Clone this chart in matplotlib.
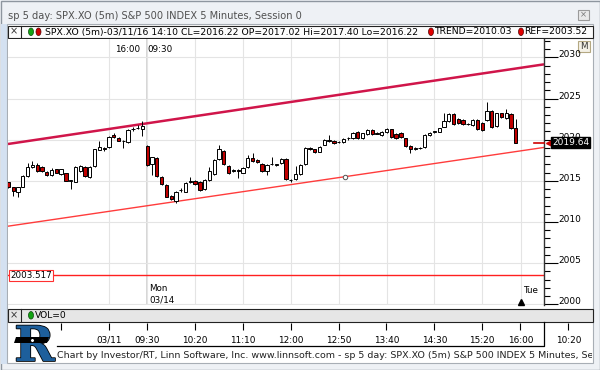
import matplotlib
matplotlib.use("Agg")
import matplotlib.pyplot as plt
import matplotlib.patheffects as pe
from matplotlib.patches import Rectangle, Ellipse, Polygon
from matplotlib.transforms import blended_transform_factory
import numpy as np

plt.rcParams['font.family'] = ['DejaVu Sans']

# ---- data: 5 minute bars, Fri 03/11 13:35-15:55 then Mon 03/14 09:30-15:55
opens = [2014.82, 2014.21, 2013.69, 2014.29, 2015.59, 2016.64, 2016.93, 2016.64, 2016.12, 2015.71,
         2016.40, 2015.83, 2015.91, 2015.02, 2014.90, 2016.24, 2016.64, 2015.51, 2016.80, 2018.75,
         2018.95, 2019.15, 2020.57, 2020.17, 2019.84, 2019.68, 2021.26, 2021.40, 2021.26,
         2019.23, 2017.05, 2017.74, 2015.51, 2014.50, 2013.16, 2012.59, 2013.85, 2013.69, 2014.90,
         2015.02, 2014.90, 2013.97, 2015.10, 2015.79, 2017.65, 2018.63, 2016.80, 2016.24, 2016.28,
         2016.00, 2016.64, 2017.74, 2017.53, 2017.05, 2016.24, 2017.05, 2016.97, 2017.13, 2017.65,
         2015.10, 2015.18, 2015.83, 2017.01, 2019.00, 2018.83, 2018.55, 2019.36, 2019.88, 2019.84,
         2019.74, 2019.76, 2020.15, 2020.17, 2020.98, 2020.17, 2020.69, 2021.18, 2020.75, 2020.57,
         2020.94, 2021.26, 2020.69, 2020.77, 2020.17, 2019.23, 2018.93, 2018.95, 2019.15, 2020.57,
         2020.96, 2020.98, 2021.58, 2022.31, 2023.08, 2022.48, 2022.39, 2021.85, 2021.79, 2022.39,
         2022.07, 2022.39, 2023.53, 2021.66, 2023.20, 2022.60, 2023.12, 2021.38]
closes = [2014.21, 2013.81, 2014.21, 2015.59, 2016.72, 2016.93, 2016.24, 2016.24, 2015.71, 2016.32,
          2016.00, 2016.40, 2015.02, 2015.05, 2016.64, 2016.80, 2015.59, 2016.72, 2018.83, 2019.15,
          2018.90, 2020.37, 2020.29, 2019.88, 2019.80, 2021.18, 2021.30, 2021.46, 2021.71,
          2016.93, 2017.86, 2015.59, 2014.62, 2013.08, 2012.75, 2013.69, 2013.89, 2014.78, 2014.95,
          2014.62, 2013.89, 2015.10, 2016.24, 2017.53, 2018.83, 2017.01, 2015.91, 2016.28, 2016.20,
          2016.60, 2017.74, 2017.41, 2017.25, 2016.24, 2016.93, 2017.09, 2017.01, 2017.65, 2015.18,
          2015.14, 2015.83, 2016.93, 2019.03, 2018.90, 2018.55, 2019.15, 2019.96, 2019.92, 2019.56,
          2019.78, 2020.04, 2020.19, 2020.86, 2020.17, 2020.77, 2021.18, 2020.69, 2020.79, 2020.98,
          2021.26, 2020.29, 2020.17, 2020.37, 2019.23, 2018.83, 2018.97, 2018.99, 2020.57, 2020.86,
          2021.00, 2021.38, 2022.31, 2023.08, 2021.91, 2021.99, 2021.91, 2021.89, 2022.39, 2021.26,
          2021.18, 2023.53, 2021.58, 2023.20, 2022.72, 2023.20, 2021.38, 2019.64]
highs = [2014.90, 2014.30, 2014.30, 2015.70, 2017.13, 2017.41, 2017.20, 2016.80, 2016.20, 2016.52,
         2016.50, 2016.50, 2016.00, 2015.15, 2016.75, 2016.90, 2016.75, 2016.80, 2018.90, 2019.84,
         2019.10, 2020.50, 2020.77, 2020.30, 2020.00, 2021.30, 2021.50, 2021.79, 2022.31,
         2019.30, 2017.95, 2017.85, 2015.60, 2014.60, 2013.25, 2013.80, 2014.10, 2014.90, 2015.43,
         2015.10, 2015.00, 2015.20, 2016.64, 2017.65, 2019.36, 2018.75, 2016.90, 2016.40, 2016.40,
         2016.70, 2018.14, 2018.42, 2017.65, 2017.15, 2017.00, 2017.86, 2017.10, 2017.75, 2017.75,
         2015.25, 2016.80, 2017.00, 2019.10, 2019.15, 2018.90, 2019.25, 2020.05, 2020.57, 2019.95,
         2019.90, 2020.15, 2020.35, 2020.95, 2021.10, 2020.85, 2021.30, 2021.30, 2020.90, 2021.05,
         2021.46, 2021.35, 2020.80, 2020.90, 2020.25, 2019.30, 2019.10, 2019.10, 2020.65, 2020.95,
         2021.10, 2021.45, 2023.20, 2023.20, 2023.20, 2022.60, 2022.50, 2022.00, 2022.50, 2022.50,
         2022.20, 2024.54, 2023.65, 2023.30, 2023.30, 2023.69, 2023.20, 2022.48]
lows = [2014.10, 2013.16, 2013.00, 2014.20, 2015.50, 2016.60, 2016.10, 2016.10, 2015.60, 2015.60,
        2015.90, 2015.75, 2014.95, 2013.97, 2014.80, 2016.10, 2015.45, 2015.40, 2016.70, 2018.70,
        2018.60, 2019.00, 2020.20, 2019.80, 2018.95, 2019.60, 2021.10, 2021.30, 2020.45,
        2016.80, 2015.71, 2015.50, 2014.50, 2013.00, 2012.65, 2012.35, 2013.60, 2013.60, 2014.70,
        2014.50, 2013.80, 2013.85, 2015.00, 2015.70, 2017.55, 2016.90, 2015.80, 2016.10, 2015.30,
        2015.90, 2016.55, 2017.30, 2017.15, 2016.10, 2015.71, 2016.95, 2016.85, 2017.05, 2015.10,
        2014.80, 2015.10, 2015.75, 2016.90, 2018.75, 2018.40, 2018.45, 2019.30, 2019.75, 2019.45,
        2019.60, 2019.65, 2020.00, 2020.05, 2020.05, 2020.05, 2020.60, 2020.60, 2020.65, 2020.50,
        2020.85, 2020.20, 2020.05, 2020.25, 2019.10, 2018.42, 2018.80, 2018.85, 2019.05, 2020.50,
        2020.85, 2020.90, 2021.50, 2022.20, 2021.80, 2021.90, 2021.80, 2021.75, 2021.70, 2021.15,
        2021.05, 2022.30, 2021.45, 2021.55, 2022.60, 2022.50, 2021.25, 2019.55]

# trend lines (bar index, price) and reference level
upper_x, upper_y = [-0.1, 111.9], [2019.48, 2029.16]
lower_x, lower_y = [-0.1, 111.9], [2009.49, 2019.06]
anchor_x, anchor_y = [70.3], [2015.50]
ref_level = 2003.517
last_price = 2019.64

time_ticks = [11, 21, 29, 39, 49, 59, 69, 79, 89, 99, 107, 117]
time_labels = ['', '03/11', '09:30', '10:20', '11:10', '12:00', '12:50', '13:40',
               '14:30', '15:20', '16:00', '10:20']
grid_ticks = [21, 29, 39, 49, 59, 69, 79, 89, 99, 107]
session_break = 29
tue_start = 107

info_text = "SPX.XO (5m)-03/11/16 14:10 CL=2016.22 OP=2017.02 Hi=2017.40 Lo=2016.22"
trend_text = "TREND=2010.03"
ref_text = "REF=2003.52"
title = "sp 5 day: SPX.XO (5m) S&P 500 INDEX 5 Minutes, Session 0"
footer = ("Chart by Investor/RT, Linn Software, Inc. www.linnsoft.com - "
          "sp 5 day: SPX.XO (5m) S&P 500 INDEX 5 Minutes, Session 0")

W, H = 600, 370
fig = plt.figure(figsize=(6, 3.7), dpi=100, facecolor='#eef1f5')


def fr(x0, y0, x1, y1):
    # pixel box (top-left origin) -> figure fraction rect
    return [x0 / W, 1 - y1 / H, (x1 - x0) / W, (y1 - y0) / H]


# background / window frame in pixel coords
bg = fig.add_axes([0, 0, 1, 1], zorder=0)
bg.set_xlim(0, W)
bg.set_ylim(H, 0)
bg.axis('off')
bg.add_patch(Rectangle((0.5, 0.5), 599, 369, fc='none', ec='#8e969f', lw=1))
bg.add_patch(Rectangle((1, 24), 5.5, 340, fc='#d4e1f1', ec='none'))
bg.add_patch(Rectangle((7, 24), 586, 339, fc='white', ec='#a8aeb5', lw=0.8))
bg.text(8, 16, title, fontsize=7.1, color='#505050', va='center', ha='left')
bg.add_patch(Rectangle((578, 9.5), 11, 10, fc='#e9e9e9', ec='#9a9a9a', lw=0.8))
bg.text(583.5, 14.5, '×', fontsize=6, color='#777777', ha='center', va='center')

# info bar
bg.add_patch(Rectangle((7.5, 25.5), 585, 12.5, fc='#fcfcfc', ec='#222222', lw=0.8))
bg.plot([20.5, 20.5], [25.5, 38], color='#222222', lw=0.8)
bg.text(14, 31.8, '×', fontsize=7, color='#333333', ha='center', va='center')
bg.add_patch(Ellipse((31, 31.8), 5, 7.5, fc='#13a313', ec='#0a4a0a', lw=0.5))
bg.add_patch(Ellipse((38.5, 31.8), 5, 7.5, fc='#d00000', ec='#500000', lw=0.5))
bg.text(45, 32, info_text, fontsize=6.7, color='black', va='center', ha='left')
bg.add_patch(Ellipse((431, 31.8), 5, 7.5, fc='#e00000', ec='#500000', lw=0.5))
bg.text(434.5, 32, trend_text, fontsize=6.7, color='black', va='center', ha='left')
bg.add_patch(Ellipse((521, 31.8), 5, 7.5, fc='#e00000', ec='#500000', lw=0.5))
bg.text(524.5, 32, ref_text, fontsize=6.7, color='black', va='center', ha='left')
bg.plot([266, 285], [39.5, 39.5], color='black', lw=2, solid_capstyle='butt')

# "M" button
bg.add_patch(Rectangle((578, 40.5), 11.5, 11, fc='#f4f1e6', ec='#b4a882', lw=0.8))
bg.text(583.8, 46.3, 'M', fontsize=6.3, color='#333333', ha='center', va='center')

# VOL pane header
bg.add_patch(Rectangle((7.5, 308.5), 585, 13.5, fc='#e6e6e6', ec='#222222', lw=0.8))
bg.plot([20.5, 20.5], [308.5, 322], color='#222222', lw=0.8)
bg.text(14, 315.3, '×', fontsize=7, color='#333333', ha='center', va='center')
bg.add_patch(Ellipse((31, 315.3), 5, 7.5, fc='#13a313', ec='#0a4a0a', lw=0.5))
bg.text(34.5, 315.5, 'VOL=0', fontsize=6.6, color='black', va='center', ha='left')

# time axis frame lines
bg.plot([57, 543.5, 543.5], [346, 346, 322], color='black', lw=0.9)

# logo
bg.add_patch(Polygon([[16, 337], [49, 337], [47, 343], [14, 343]], closed=True,
                     fc='black', ec='none', zorder=3))
bg.text(34.5, 361, 'R', fontsize=35, fontweight='bold', family='DejaVu Serif',
        color='#1d5f9c', ha='center', va='baseline', zorder=2,
        path_effects=[pe.withStroke(linewidth=1.2, foreground='black')])
bg.plot([32], [340.2], marker=(4, 0, 0), ms=1.5, color='white', zorder=4)

# footer (clipped at window edge)
fax = fig.add_axes(fr(0, 348, 592, 364), zorder=1)
fax.set_xlim(0, 592)
fax.set_ylim(364, 348)
fax.axis('off')
fax.text(57, 356, footer, fontsize=6.8, color='#222222', ha='left', va='center', clip_on=True)

# main price chart
ax = fig.add_axes(fr(8, 39, 544, 305), zorder=2)
ax.set_facecolor('white')
ax.set_xlim(-0.1, 111.9)
ax.set_ylim(1999.91, 2032.24)

for s in ['left', 'top', 'bottom']:
    ax.spines[s].set_visible(False)
ax.spines['right'].set_color('#333333')
ax.spines['right'].set_linewidth(1.0)

ax.yaxis.tick_right()
ax.set_yticks(np.arange(2000, 2031, 5))
ax.set_yticks(np.arange(2000, 2033, 1), minor=True)
ax.tick_params(axis='y', which='major', length=10, width=0.8, pad=0.5,
               labelsize=6.5, colors='black', direction='out')
ax.tick_params(axis='y', which='minor', length=4, width=0.8, direction='out')
for lab in ax.get_yticklabels():
    lab.set_verticalalignment('baseline')
ax.set_xticks(grid_ticks)
ax.tick_params(axis='x', length=0, labelbottom=False)
ax.grid(True, color='#e4e4e4', lw=0.8)
ax.axvline(session_break, color='#cfcfcf', lw=1.2, zorder=0.5)
ax.set_axisbelow(True)

ox = blended_transform_factory(ax.transData, ax.transAxes)

# trend lines and reference level
ax.plot(upper_x, upper_y, color='#d0154a', lw=1.8, zorder=2, solid_capstyle='butt')
ax.plot(lower_x, lower_y, color='#ff3c3c', lw=1.0, zorder=2)
ax.plot(anchor_x, anchor_y, 'o', ms=3.2, mfc='white', mec='#555555', mew=0.7, zorder=3)
ax.axhline(ref_level, color='#ff2020', lw=1.0, zorder=2)
ax.text(0.4, ref_level, f'{ref_level:.3f}', fontsize=6.3, color='black', ha='left', va='center',
        zorder=6, bbox=dict(boxstyle='square,pad=0.15', fc='white', ec='#ff3030', lw=0.8))

# candles
idx = np.arange(len(opens))
o = np.array(opens)
c = np.array(closes)
hi = np.maximum(np.array(highs), np.maximum(o, c))
lo = np.minimum(np.array(lows), np.minimum(o, c))
ax.vlines(idx, lo, hi, color='black', lw=0.7, zorder=4)
up = c >= o
body_lo = np.minimum(o, c)
body_h = np.maximum(np.abs(c - o), 0.03)
ax.bar(idx[up], body_h[up], bottom=body_lo[up], width=0.68, color='white',
       edgecolor='black', lw=0.7, zorder=5)
ax.bar(idx[~up], body_h[~up], bottom=body_lo[~up], width=0.68, color='#c00000',
       edgecolor='black', lw=0.7, zorder=5)

# session labels
ax.annotate('16:00', xy=(session_break, 0.959), xycoords=ox, xytext=(-5, 0),
            textcoords='offset points', ha='right', va='center', fontsize=6.3)
ax.annotate('09:30', xy=(session_break, 0.959), xycoords=ox, xytext=(0, 0),
            textcoords='offset points', ha='left', va='center', fontsize=6.3)
ax.annotate('Mon', xy=(session_break, 0.062), xycoords=ox, xytext=(1.2, 0),
            textcoords='offset points', ha='left', va='center', fontsize=6.3)
ax.annotate('03/14', xy=(session_break, 0.020), xycoords=ox, xytext=(1.2, 0),
            textcoords='offset points', ha='left', va='center', fontsize=6.3)
ax.annotate('Tue', xy=(tue_start, 0.055), xycoords=ox, xytext=(1.5, 0),
            textcoords='offset points', ha='left', va='center', fontsize=6.3)
ax.plot([tue_start], [0.01], marker='^', ms=4, color='black', transform=ox,
        clip_on=False, zorder=6)

# last price marker
rx = blended_transform_factory(ax.transAxes, ax.transData)
ax.plot([0.982, 1.0], [last_price, last_price], color='#d00000', lw=1.2, transform=rx,
        clip_on=False, zorder=6)
ax.plot([1.009], [last_price], marker='<', ms=4.5, color='#d00000', transform=rx,
        clip_on=False, zorder=7)
ax.annotate(f'{last_price:.2f}', xy=(1.0, last_price), xycoords=rx, xytext=(6.0, 0),
            textcoords='offset points', ha='left', va='center', fontsize=6.5, color='white',
            annotation_clip=False, zorder=7,
            bbox=dict(boxstyle='square,pad=0.1', fc='black', ec='black'))

# time axis
tax = fig.add_axes(fr(8, 322, 592, 330), zorder=1)
tax.set_xlim(-0.1, 121.95)
tax.patch.set_visible(False)
for s in tax.spines.values():
    s.set_visible(False)
tax.set_yticks([])
tax.set_xticks(time_ticks)
tax.set_xticklabels(time_labels)
tax.tick_params(axis='x', direction='in', length=5, width=0.8, pad=4.2, labelsize=6.4)

fig.savefig('out.png', dpi=100, facecolor=fig.get_facecolor())
